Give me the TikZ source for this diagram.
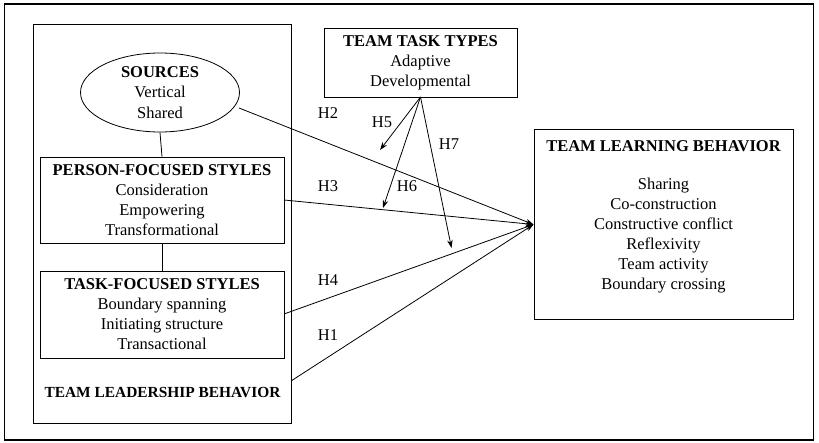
\documentclass[tikz,border=0pt]{standalone}
\usepackage{fontspec}
\setmainfont{Liberation Serif}
\usetikzlibrary{arrows.meta,shapes.geometric}
\tikzset{
  ln/.style={line width=0.8pt, draw=black},
  box/.style={ln, rectangle, inner sep=0pt, align=center, font=\fontsize{16.5}{20}\selectfont},
  txt/.style={inner sep=0pt, align=center, font=\fontsize{16.5}{20}\selectfont},
  arr/.style={ln, -{Stealth[length=8pt,width=5.5pt]}},
  hyp/.style={txt}
}
\begin{document}
\begin{tikzpicture}[x=1pt,y=-1pt]
\useasboundingbox (0,0) rectangle (819,443);
% outer frame
\node[ln, line width=1.4pt, rectangle, inner sep=0pt, minimum width=809pt, minimum height=436pt] (frame) at (409,222) {};
% leadership box
\node[ln, rectangle, inner sep=0pt, minimum width=258pt, minimum height=399pt] (lead) at (162,223.5) {};
% sources ellipse
\node[ln, ellipse, inner sep=0pt, minimum width=159pt, minimum height=79pt, align=center, font=\fontsize{16.5}{20.5}\selectfont] (src) at (160,92.5) {\textbf{SOURCES}\\Vertical\\Shared};
% person box
\node[box, minimum width=244pt, minimum height=86pt] (person) at (162,200) {\textbf{PERSON-FOCUSED STYLES}\\Consideration\\Empowering\\Transformational};
% task box
\node[box, minimum width=244pt, minimum height=87pt] (task) at (162,314.5) {\textbf{TASK-FOCUSED STYLES}\\Boundary spanning\\Initiating structure\\Transactional};
\node[txt, font=\fontsize{15.4}{18}\selectfont\bfseries] (leadlbl) at (162.5,393) {TEAM LEADERSHIP BEHAVIOR};
% team task types
\node[box, minimum width=193pt, minimum height=69pt] (types) at (420.5,62.5) {\textbf{TEAM TASK TYPES}\\Adaptive\\Developmental};
% team learning behavior
\node[ln, rectangle, inner sep=0pt, minimum width=259pt, minimum height=190pt] (tlb) at (663.5,224) {};
\node[txt, font=\fontsize{16.5}{20}\selectfont\bfseries] (tlbtitle) at (663.5,146) {TEAM LEARNING BEHAVIOR};
\node[txt] (tlbitems) at (663.5,236) {Sharing\\Co-construction\\Constructive conflict\\Reflexivity\\Team activity\\Boundary crossing};
% connections
\coordinate (tgt) at (533.5,224.5);
\draw[ln] (src.south) -- (person.north);
\draw[ln] (person.south) -- (task.north);
\coordinate (srcR) at (239,108);
\coordinate (perR) at (284,200);
\coordinate (taskR) at (284,314);
\coordinate (leadR) at (291,381);
\draw[arr] (srcR) -- (tgt);
\draw[arr] (perR) -- (tgt);
\draw[arr] (taskR) -- (tgt);
\draw[arr] (leadR) -- (tgt);
\coordinate (typesB) at (420.5,97);
\coordinate (h5end) at (380,150);
\coordinate (h6end) at (383,208);
\coordinate (h7end) at (451.5,248);
\draw[arr] (typesB) -- (h5end);
\draw[arr] (typesB) -- (h6end);
\draw[arr] (typesB) -- (h7end);
% labels
\node[hyp] (H2) at (328,113) {H2};
\node[hyp] (H5) at (382,122) {H5};
\node[hyp] (H7) at (449,144) {H7};
\node[hyp] (H3) at (328,186) {H3};
\node[hyp] (H6) at (407,186) {H6};
\node[hyp] (H4) at (328,280) {H4};
\node[hyp] (H1) at (328,335) {H1};
\end{tikzpicture}
\end{document}
